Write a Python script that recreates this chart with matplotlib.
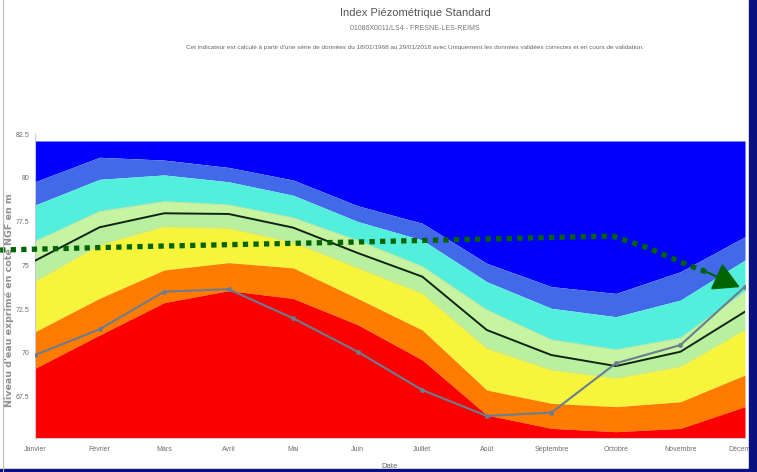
import matplotlib
matplotlib.use("Agg")
import matplotlib.pyplot as plt
from matplotlib.patches import Rectangle
from matplotlib.lines import Line2D

plt.rcParams['font.family'] = ['Liberation Sans Narrow', 'Liberation Sans', 'DejaVu Sans']

months = ['Janvier', 'Février', 'Mars', 'Avril', 'Mai', 'Juin', 'Juillet',
          'Août', 'Septembre', 'Octobre', 'Novembre', 'Décembre']

# upper bound of the plotted area
top_level = 82.1
# class boundaries, from the highest to the lowest (m NGF)
b_blue = [79.77, 81.17, 81.01, 80.59, 79.87, 78.40, 77.40, 75.11, 73.78, 73.39, 74.63, 76.63]
b_royal = [78.44, 79.91, 80.16, 79.77, 79.00, 77.50, 76.44, 74.06, 72.54, 72.06, 73.01, 75.30]
b_cyan = [76.35, 78.06, 78.63, 78.44, 77.70, 76.40, 74.92, 72.44, 70.73, 70.16, 70.83, 73.49]
median = [75.26, 77.17, 77.97, 77.93, 77.15, 75.70, 74.35, 71.30, 69.87, 69.24, 70.06, 72.35]
b_green = [74.06, 76.16, 77.20, 77.11, 76.30, 74.85, 73.39, 70.25, 69.01, 68.54, 69.20, 71.30]
b_yellow = [71.20, 73.11, 74.73, 75.15, 74.85, 73.10, 71.30, 67.87, 67.11, 66.92, 67.20, 68.73]
b_orange = [69.11, 71.01, 72.86, 73.55, 73.10, 71.60, 69.59, 66.44, 65.68, 65.49, 65.68, 66.92]
# observed levels of the year
observed = [69.87, 71.34, 73.49, 73.63, 71.97, 70.06, 67.87, 66.39, 66.58, 69.40, 70.44, 73.78]

# hand-drawn trend arrow (month index, level)
arrow_x = [-0.54, 2.0, 5.0, 8.0, 8.95, 9.5, 10.0, 10.4]
arrow_y = [75.87, 76.10, 76.33, 76.59, 76.67, 75.99, 75.19, 74.62]
arrow_tip = (10.92, 73.75)

yticks = [67.5, 70, 72.5, 75, 77.5, 80, 82.5]
ymin = 65.13

x = list(range(len(months)))

fig = plt.figure(figsize=(7.57, 4.72), dpi=100)
ax = fig.add_axes([35 / 757, 1 - 438 / 472, 710 / 757, (438 - 134) / 472])

layers = [
    ([top_level] * 12, b_blue, '#0000fb'),
    (b_blue, b_royal, '#4169e8'),
    (b_royal, b_cyan, '#52efdc'),
    (b_cyan, median, '#c6f4a0'),
    (median, b_green, '#b8f0a0'),
    (b_green, b_yellow, '#f6f53c'),
    (b_yellow, b_orange, '#ff7c00'),
    (b_orange, [ymin] * 12, '#fc0000'),
]
for upper, lower, col in layers:
    ax.fill_between(x, lower, upper, color=col, lw=0, zorder=1)

# faint edges between the classes
for edge, col in [(b_cyan, '#c9e6a0'), (b_green, '#d8e870')]:
    ax.plot(x, edge, color=col, lw=0.8, zorder=2)

ax.plot(x, median, color='#102414', lw=1.4, zorder=3)
ax.plot(x, observed, color='#6b7d90', lw=1.5, marker='o', ms=2.5, zorder=4)

# green dotted arrow
ax.add_line(Line2D(arrow_x, arrow_y, color='#006400', lw=3.8,
                   linestyle=(0, (1, 1)), dash_capstyle='butt',
                   clip_on=False, zorder=6))
ax.annotate('', xy=arrow_tip, xytext=(arrow_x[-1], arrow_y[-1]),
            arrowprops=dict(arrowstyle='-|>,head_length=0.9,head_width=0.5',
                            color='#006400', lw=1.5, mutation_scale=18,
                            shrinkA=0, shrinkB=0),
            zorder=7, annotation_clip=False)

ax.set_xlim(0, 11)
ax.set_ylim(ymin, 82.5)
ax.set_xticks(x)
ax.set_xticklabels(months)
ax.set_yticks(yticks)
ax.set_yticklabels(['67.5', '70', '72.5', '75', '77.5', '80', '82.5'])
ax.tick_params(length=0, labelsize=5, colors='#6e6e6e', pad=4)
ax.tick_params(axis='x', pad=6)
for s in ['top', 'right']:
    ax.spines[s].set_visible(False)
for s in ['left', 'bottom']:
    ax.spines[s].set_color('#c8c8dc')
    ax.spines[s].set_linewidth(0.8)

fig.text(390 / 757, 1 - 466 / 472, 'Date', ha='center', va='center',
         fontsize=5.5, color='#666666')
fig.text(9 / 757, 1 - 300 / 472, "Niveau d'eau exprimé en cote NGF en m",
         rotation=90, ha='center', va='center', fontsize=6.8,
         color='#8f8f8f', fontweight='bold', family=['DejaVu Sans'])

fig.text(415 / 757, 1 - 13 / 472, 'Index Piézométrique Standard',
         ha='center', va='center', fontsize=8, color='#555555')
fig.text(415 / 757, 1 - 28 / 472, '01086X0011/LS4 - FRESNE-LES-REIMS',
         ha='center', va='center', fontsize=5, color='#777777')
fig.text(415 / 757, 1 - 47 / 472,
         "Cet indicateur est calculé à partir d'une série de données du "
         "18/01/1968 au 29/01/2018 avec Uniquement les données validées "
         "correctes et en cours de validation.",
         ha='center', va='center', fontsize=4.6, color='#666666')

# frame of the screenshot
fig.add_artist(Rectangle((749 / 757, 0), 8 / 757, 1, transform=fig.transFigure,
                         color='#0a1280', zorder=20))
fig.add_artist(Rectangle((0, 0), 1, 3 / 472, transform=fig.transFigure,
                         color='#0a1280', zorder=20))
fig.add_artist(Line2D([3 / 757, 3 / 757], [0, 1], transform=fig.transFigure,
                      color='#bbbbbb', lw=0.8, zorder=20))

fig.savefig('out.png', dpi=100)
